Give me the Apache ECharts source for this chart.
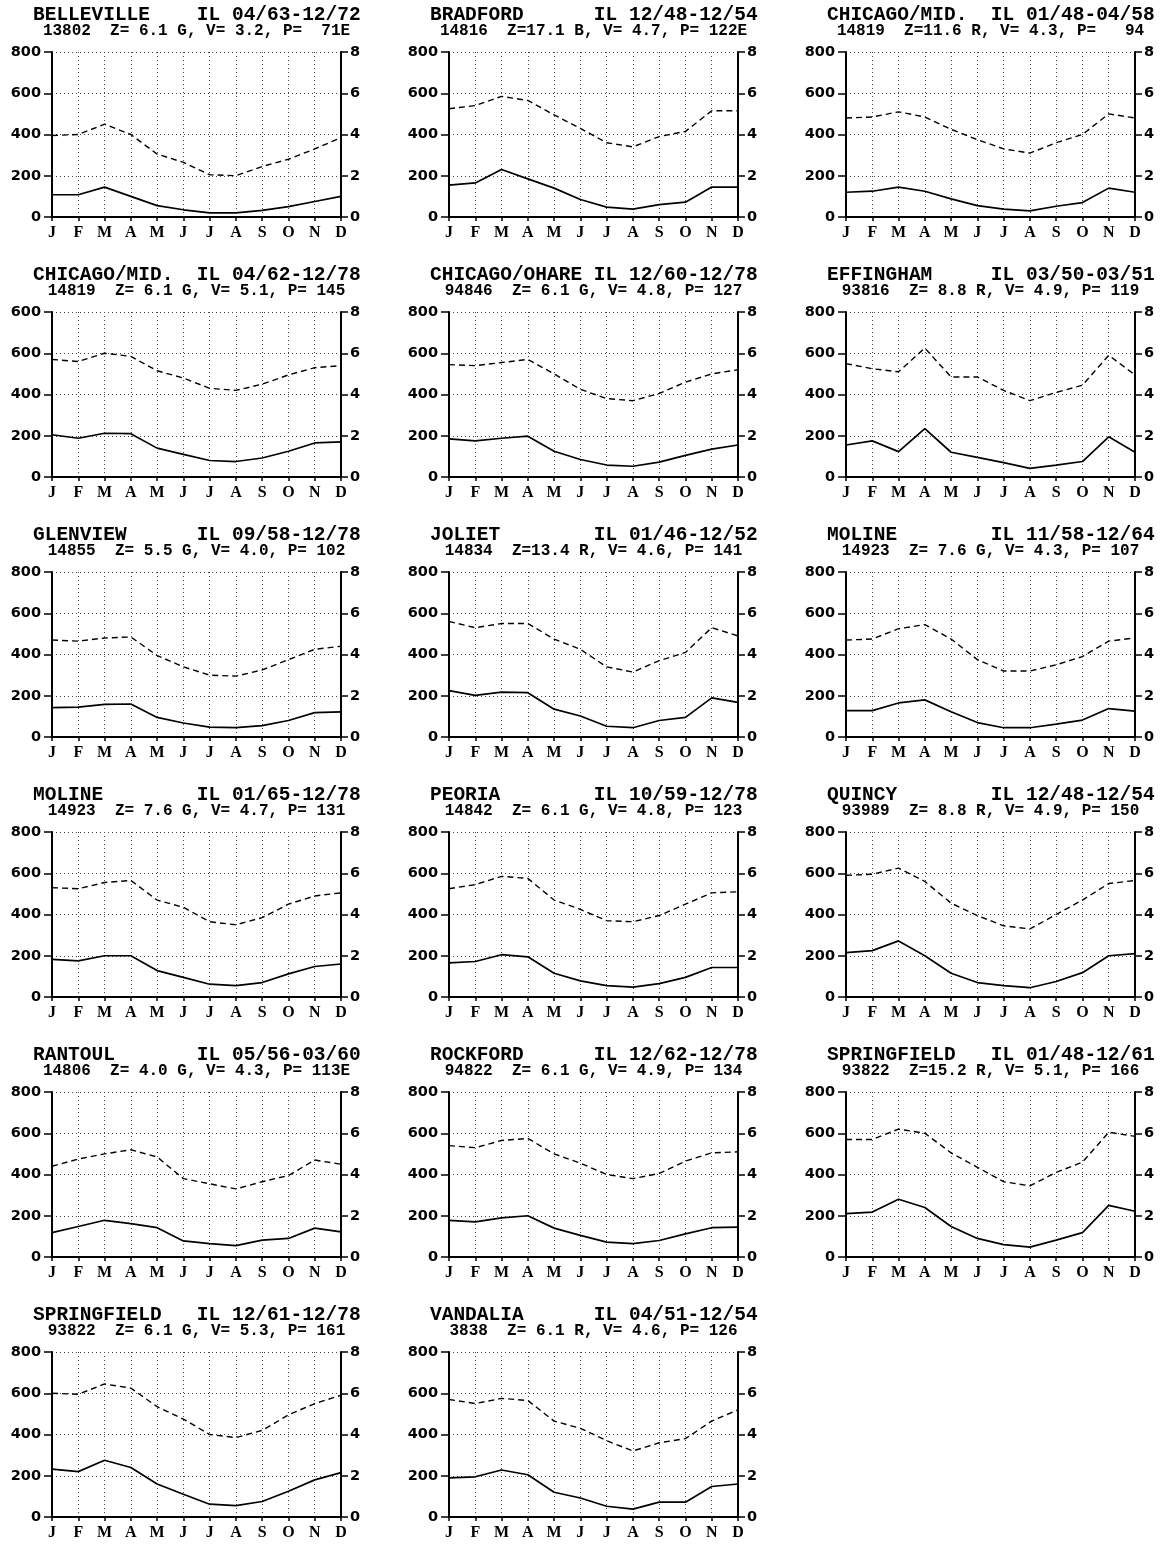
<!DOCTYPE html>
<html>
<head>
<meta charset="utf-8">
<script src="https://cdn.jsdelivr.net/npm/echarts@6/dist/echarts.min.js"></script>
<style>
  html, body { margin: 0; padding: 0; background: #fff; }
  #main { width: 1160px; height: 1545px; }
</style>
</head>
<body>
<div id="main"></div>
<script>
// 月份和刻度
var months = ['J', 'F', 'M', 'A', 'M', 'J', 'J', 'A', 'S', 'O', 'N', 'D'];
var leftTicks = ['0', '200', '400', '600', '800'];
var leftTicksOdd = ['0', '200', '400', '600', '600'];
var rightTicks = ['0', '2', '4', '6', '8'];

// 各站数据: P = 风能密度 (左轴), V = 风速 (右轴)
var bellevilleP = [108, 108, 145, 100, 55, 35, 20, 20, 32, 50, 75, 100];
var bellevilleV = [3.95, 4.0, 4.5, 4.0, 3.05, 2.65, 2.05, 2.0, 2.45, 2.8, 3.3, 3.85];
var bradfordP = [155, 165, 230, 185, 140, 85, 48, 38, 60, 72, 145, 145];
var bradfordV = [5.25, 5.4, 5.85, 5.65, 4.95, 4.3, 3.6, 3.4, 3.9, 4.15, 5.15, 5.15];
var chicagoMid1P = [120, 125, 145, 125, 88, 55, 38, 30, 52, 70, 140, 120];
var chicagoMid1V = [4.8, 4.85, 5.1, 4.85, 4.25, 3.75, 3.3, 3.1, 3.6, 4.0, 5.0, 4.8];
var chicagoMid2P = [205, 188, 212, 210, 140, 110, 80, 75, 92, 125, 165, 170];
var chicagoMid2V = [5.7, 5.6, 6.0, 5.85, 5.15, 4.8, 4.3, 4.2, 4.5, 4.95, 5.3, 5.4];
var chicagoOhareP = [185, 175, 188, 198, 125, 85, 58, 52, 72, 105, 135, 155];
var chicagoOhareV = [5.45, 5.4, 5.55, 5.7, 5.0, 4.25, 3.8, 3.7, 4.05, 4.6, 5.0, 5.2];
var effinghamP = [155, 175, 123, 235, 120, 95, 70, 42, 58, 75, 195, 120];
var effinghamV = [5.5, 5.25, 5.1, 6.25, 4.85, 4.85, 4.2, 3.7, 4.1, 4.45, 5.9, 4.95];
var glenviewP = [142, 145, 158, 160, 95, 68, 48, 45, 55, 80, 118, 122];
var glenviewV = [4.7, 4.65, 4.8, 4.85, 3.95, 3.4, 3.0, 2.95, 3.25, 3.75, 4.25, 4.4];
var jolietP = [225, 202, 218, 215, 135, 102, 52, 45, 80, 95, 190, 168];
var jolietV = [5.6, 5.3, 5.5, 5.5, 4.75, 4.25, 3.4, 3.15, 3.7, 4.1, 5.3, 4.9];
var moline1P = [128, 128, 165, 180, 122, 70, 45, 45, 62, 82, 138, 125];
var moline1V = [4.7, 4.75, 5.25, 5.45, 4.75, 3.75, 3.2, 3.2, 3.5, 3.9, 4.65, 4.8];
var moline2P = [182, 175, 200, 200, 128, 95, 62, 55, 70, 112, 148, 160];
var moline2V = [5.3, 5.25, 5.55, 5.65, 4.7, 4.35, 3.65, 3.5, 3.85, 4.5, 4.9, 5.05];
var peoriaP = [165, 172, 205, 195, 115, 78, 55, 48, 65, 95, 143, 143];
var peoriaV = [5.25, 5.45, 5.85, 5.75, 4.7, 4.25, 3.7, 3.65, 3.95, 4.5, 5.05, 5.1];
var quincyP = [215, 225, 272, 200, 115, 70, 55, 45, 75, 118, 200, 210];
var quincyV = [5.9, 5.95, 6.25, 5.6, 4.55, 3.95, 3.45, 3.3, 4.0, 4.7, 5.5, 5.65];
var rantoulP = [118, 148, 178, 162, 142, 78, 65, 55, 82, 90, 140, 122];
var rantoulV = [4.4, 4.75, 5.0, 5.2, 4.85, 3.8, 3.55, 3.3, 3.65, 3.95, 4.7, 4.5];
var rockfordP = [178, 170, 190, 200, 140, 105, 72, 65, 80, 112, 142, 145];
var rockfordV = [5.4, 5.3, 5.65, 5.75, 5.0, 4.55, 4.0, 3.8, 4.05, 4.65, 5.05, 5.1];
var springfield1P = [210, 218, 280, 240, 148, 90, 60, 48, 82, 118, 250, 222];
var springfield1V = [5.7, 5.7, 6.2, 6.0, 5.05, 4.35, 3.65, 3.45, 4.1, 4.6, 6.05, 5.85];
var springfield2P = [232, 220, 275, 240, 160, 110, 62, 55, 75, 125, 180, 215];
var springfield2V = [6.0, 5.95, 6.45, 6.25, 5.35, 4.75, 4.0, 3.85, 4.2, 4.95, 5.5, 5.9];
var vandaliaP = [190, 195, 228, 205, 120, 92, 52, 38, 72, 72, 148, 160];
var vandaliaV = [5.7, 5.5, 5.75, 5.65, 4.65, 4.3, 3.7, 3.2, 3.6, 3.8, 4.65, 5.2];

var stationNames = ['BELLEVILLE', 'BRADFORD', 'CHICAGO/MID.', 'CHICAGO/MID.', 'CHICAGO/OHARE', 'EFFINGHAM',
	'GLENVIEW', 'JOLIET', 'MOLINE', 'MOLINE', 'PEORIA', 'QUINCY', 'RANTOUL', 'ROCKFORD',
	'SPRINGFIELD', 'SPRINGFIELD', 'VANDALIA'];
var periods = ['IL 04/63-12/72', 'IL 12/48-12/54', 'IL 01/48-04/58', 'IL 04/62-12/78', 'IL 12/60-12/78',
	'IL 03/50-03/51', 'IL 09/58-12/78', 'IL 01/46-12/52', 'IL 11/58-12/64', 'IL 01/65-12/78',
	'IL 10/59-12/78', 'IL 12/48-12/54', 'IL 05/56-03/60', 'IL 12/62-12/78', 'IL 01/48-12/61',
	'IL 12/61-12/78', 'IL 04/51-12/54'];
var subtitles = ['13802  Z= 6.1 G, V= 3.2, P=  71E', '14816  Z=17.1 B, V= 4.7, P= 122E',
	'14819  Z=11.6 R, V= 4.3, P=   94', '14819  Z= 6.1 G, V= 5.1, P= 145',
	'94846  Z= 6.1 G, V= 4.8, P= 127', '93816  Z= 8.8 R, V= 4.9, P= 119',
	'14855  Z= 5.5 G, V= 4.0, P= 102', '14834  Z=13.4 R, V= 4.6, P= 141',
	'14923  Z= 7.6 G, V= 4.3, P= 107', '14923  Z= 7.6 G, V= 4.7, P= 131',
	'14842  Z= 6.1 G, V= 4.8, P= 123', '93989  Z= 8.8 R, V= 4.9, P= 150',
	'14806  Z= 4.0 G, V= 4.3, P= 113E', '94822  Z= 6.1 G, V= 4.9, P= 134',
	'93822  Z=15.2 R, V= 5.1, P= 166', '93822  Z= 6.1 G, V= 5.3, P= 161',
	'3838  Z= 6.1 R, V= 4.6, P= 126'];

var powerList = [bellevilleP, bradfordP, chicagoMid1P, chicagoMid2P, chicagoOhareP, effinghamP,
	glenviewP, jolietP, moline1P, moline2P, peoriaP, quincyP, rantoulP, rockfordP,
	springfield1P, springfield2P, vandaliaP];
var speedList = [bellevilleV, bradfordV, chicagoMid1V, chicagoMid2V, chicagoOhareV, effinghamV,
	glenviewV, jolietV, moline1V, moline2V, peoriaV, quincyV, rantoulV, rockfordV,
	springfield1V, springfield2V, vandaliaV];

var myChart = echarts.init(document.getElementById('main'));

var colLeft = [52, 449, 846];
var gridW = 289;
var gridH = 165;
var numFont = 'DejaVu Sans';
var titleFont = 'Liberation Mono';

function labelFormatter(ticks, step) {
	return function(v) {
		return ticks[Math.round(v / step)];
	};
}

var grids = [], xAxes = [], yAxes = [], seriesArr = [], titles = [];
for (var i = 0; i < powerList.length; i++) {
	var col = i % 3;
	var row = Math.floor(i / 3);
	var gl = colLeft[col];
	var gt = 52 + row * 260;
	grids.push({ left: gl, top: gt, width: gridW, height: gridH });

	// 站名补足14位, 与原图等宽排版一致
	var name = stationNames[i];
	while (name.length < 14) {
		name += ' ';
	}
	titles.push({
		text: name + periods[i],
		left: gl - 19,
		top: gt - 47,
		padding: 0,
		textStyle: { fontFamily: titleFont, fontSize: 19.5, fontWeight: 'bold', color: '#000' }
	});
	titles.push({
		text: subtitles[i],
		left: gl + gridW / 2,
		top: gt - 29,
		padding: 0,
		textAlign: 'center',
		textStyle: { fontFamily: titleFont, fontSize: 16, fontWeight: 'bold', color: '#000' }
	});

	xAxes.push({
		gridIndex: i,
		type: 'category',
		data: months,
		boundaryGap: false,
		axisLine: { lineStyle: { color: '#000', width: 2 } },
		axisTick: { show: true, length: 4, lineStyle: { color: '#000', width: 1.5 } },
		axisLabel: { color: '#000', fontFamily: 'Liberation Serif', fontWeight: 'bold', fontSize: 16, margin: 8 },
		splitLine: { show: true, lineStyle: { color: '#444', width: 1, type: [1, 3] } }
	});
	yAxes.push({
		gridIndex: i,
		type: 'value',
		position: 'left',
		min: 0,
		max: 800,
		interval: 200,
		axisLine: { show: true, lineStyle: { color: '#000', width: 2 } },
		axisTick: { show: true, length: 8, lineStyle: { color: '#000', width: 1.5 } },
		axisLabel: {
			color: '#000', fontFamily: numFont, fontWeight: 'bold', fontSize: 14.5, margin: 11,
			formatter: labelFormatter(i === 3 ? leftTicksOdd : leftTicks, 200)
		},
		splitLine: { show: true, lineStyle: { color: '#444', width: 1, type: [1, 3] } }
	});
	yAxes.push({
		gridIndex: i,
		type: 'value',
		position: 'right',
		min: 0,
		max: 8,
		interval: 2,
		axisLine: { show: true, lineStyle: { color: '#000', width: 2 } },
		axisTick: { show: true, length: 7, lineStyle: { color: '#000', width: 1.5 } },
		axisLabel: {
			color: '#000', fontFamily: numFont, fontWeight: 'bold', fontSize: 14.5, margin: 9,
			formatter: labelFormatter(rightTicks, 2)
		},
		splitLine: { show: false }
	});
	seriesArr.push({
		type: 'line',
		xAxisIndex: i,
		yAxisIndex: i * 2,
		data: powerList[i],
		symbol: 'none',
		lineStyle: { color: '#000', width: 1.7 }
	});
	seriesArr.push({
		type: 'line',
		xAxisIndex: i,
		yAxisIndex: i * 2 + 1,
		data: speedList[i],
		symbol: 'none',
		lineStyle: { color: '#000', width: 1.4, type: [6, 4] }
	});
}

var option = {
	backgroundColor: '#ffffff',
	animation: false,
	title: titles,
	grid: grids,
	xAxis: xAxes,
	yAxis: yAxes,
	series: seriesArr
};
myChart.setOption(option);
window.addEventListener('resize', function() {
	myChart.resize();
});
</script>
</body>
</html>
